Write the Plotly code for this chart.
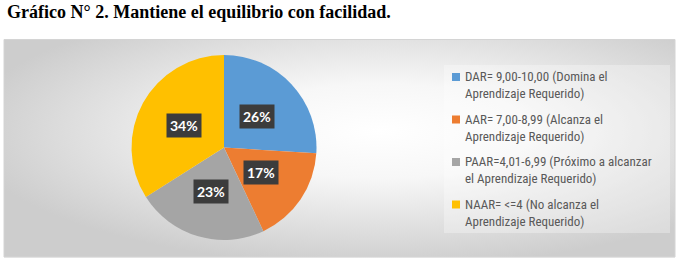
import math, base64
import plotly.graph_objects as go

W, H = 678, 262

title_text = "Gráfico N° 2. Mantiene el equilibrio con facilidad."
categories = [
    "DAR= 9,00-10,00 (Domina el<br>Aprendizaje Requerido)",
    "AAR= 7,00-8,99 (Alcanza el<br>Aprendizaje Requerido)",
    "PAAR=4,01-6,99 (Próximo a alcanzar<br>el Aprendizaje Requerido)",
    "NAAR= <=4 (No alcanza el<br>Aprendizaje Requerido)",
]
values = [26, 17, 23, 34]
colors = ["#5B9BD5", "#ED7D31", "#A5A5A5", "#FFC000"]


def px(x):
    return x / W


def py(y):
    return 1 - y / H


# pie geometry (pixels)
cx, cy, R = 224, 147.5, 92.5

fig = go.Figure()
fig.add_trace(go.Pie(
    labels=categories,
    values=values,
    sort=False,
    direction="clockwise",
    rotation=0,
    marker=dict(colors=colors, line=dict(width=0)),
    textinfo="none",
    hoverinfo="label+percent",
    showlegend=False,
    domain=dict(x=[px(cx - R), px(cx + R)], y=[py(cy + R), py(cy - R)]),
))

annotations = []
# percentage labels in dark boxes, positioned from the data
total = sum(values)
cum = 0
for v in values:
    mid = (cum + v / 2) / total * 2 * math.pi
    cum += v
    lx = cx + 0.49 * R * math.sin(mid)
    ly = cy - 0.49 * R * math.cos(mid)
    annotations.append(dict(
        x=px(lx), y=py(ly), xref="paper", yref="paper",
        text=f"{round(v / total * 100)}%", showarrow=False,
        font=dict(family="Lato, Open Sans, sans-serif", size=14, color="white", weight="bold"),
        bgcolor="#3c3c3c", borderpad=3, xanchor="center", yanchor="middle",
    ))

# legend (manual, to match spacing)
leg_y0, leg_step = 85, 42.5
shapes = []
for i, (lab, col) in enumerate(zip(categories, colors)):
    yc = leg_y0 + i * leg_step
    annotations.append(dict(
        x=px(463), y=py(yc), xref="paper", yref="paper",
        text=lab, showarrow=False, align="left",
        xanchor="left", yanchor="middle",
        font=dict(family="Liberation Sans Narrow, Roboto Condensed, Lato, sans-serif", size=13, color="#595959"),
    ))
    shapes.append(dict(
        type="rect", xref="paper", yref="paper",
        x0=px(452), x1=px(460), y0=py(yc - 8 - 4), y1=py(yc - 8 + 4),
        fillcolor=col, line=dict(width=0),
    ))

# legend background box
shapes.insert(0, dict(type="rect", xref="paper", yref="paper",
                      x0=px(444), x1=px(670), y0=py(233), y1=py(65),
                      fillcolor="rgba(255,255,255,0.3)", line=dict(width=0), layer="below"))
# chart border
shapes.insert(0, dict(type="rect", xref="paper", yref="paper",
                      x0=px(4), x1=px(675), y0=py(257), y1=py(39.5),
                      fillcolor="rgba(0,0,0,0)", line=dict(width=1, color="#d4d4d4"), layer="below"))

# title
annotations.append(dict(
    x=px(5), y=py(12), xref="paper", yref="paper",
    text=f"<b>{title_text}</b>", showarrow=False, xanchor="left", yanchor="middle",
    font=dict(family="Liberation Serif, Times New Roman, serif", size=18, color="black"),
))

svg = (
    '<svg xmlns="http://www.w3.org/2000/svg" width="671" height="218" viewBox="0 0 671 218" preserveAspectRatio="none">'
    '<defs><radialGradient id="g" cx="0.56" cy="0.42" r="0.62">'
    '<stop offset="0" stop-color="#ffffff"/>'
    '<stop offset="0.35" stop-color="#f7f7f7"/>'
    '<stop offset="1" stop-color="#cdcdcd"/>'
    '</radialGradient></defs>'
    '<rect x="0" y="0" width="671" height="218" fill="url(#g)"/></svg>'
)
src = "data:image/svg+xml;base64," + base64.b64encode(svg.encode()).decode()

fig.update_layout(
    width=W, height=H,
    margin=dict(l=0, r=0, t=0, b=0),
    paper_bgcolor="white",
    plot_bgcolor="white",
    annotations=annotations,
    shapes=shapes,
    images=[dict(source=src, xref="paper", yref="paper",
                 x=px(4), y=py(39.5), sizex=px(671), sizey=218 / H,
                 sizing="stretch", layer="below", xanchor="left", yanchor="top")],
)

fig.write_html("out.html")
